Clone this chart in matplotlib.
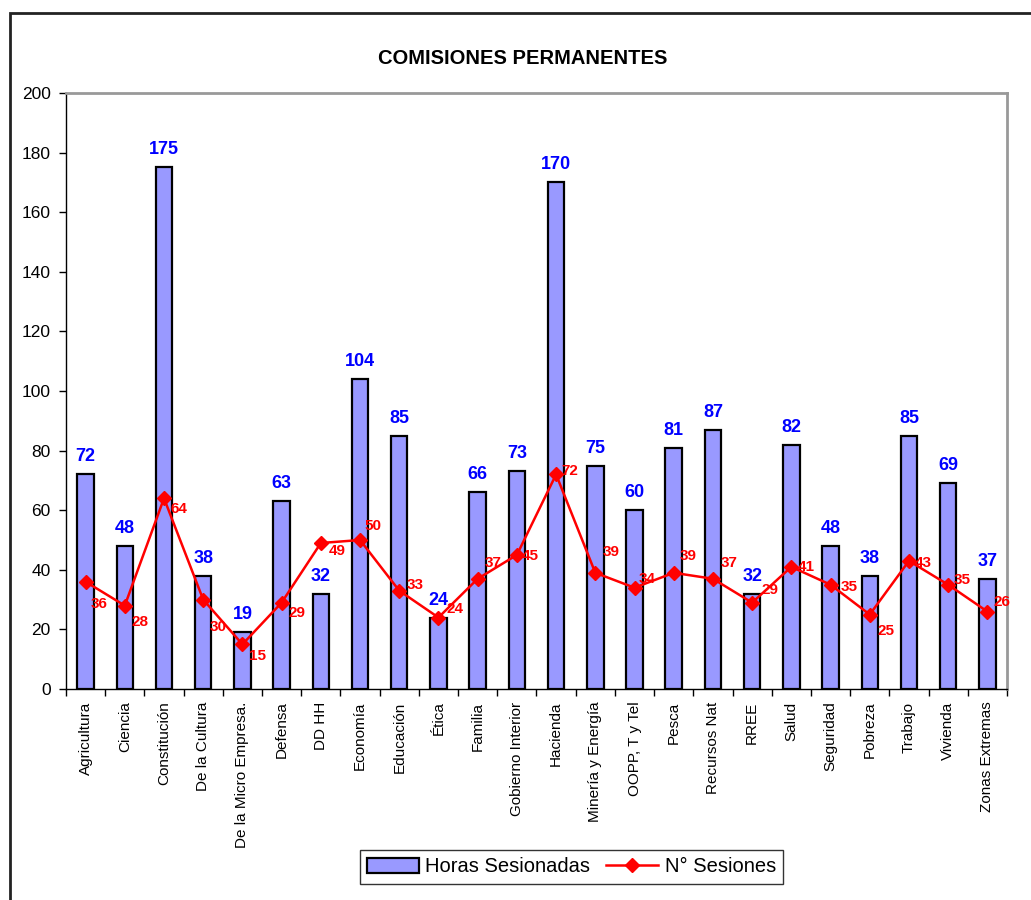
import numpy as np
import matplotlib
matplotlib.use("Agg")
import matplotlib.pyplot as plt
from matplotlib.patches import Rectangle

plt.rcParams['font.family'] = ['Liberation Sans', 'DejaVu Sans']

# datos
comisiones = ["Agricultura", "Ciencia", "Constitución", "De la Cultura",
              "De la Micro Empresa.", "Defensa", "DD HH", "Economía", "Educación",
              "Ética", "Familia", "Gobierno Interior", "Hacienda", "Minería y Energía",
              "OOPP, T y Tel", "Pesca", "Recursos Nat", "RREE", "Salud", "Seguridad",
              "Pobreza", "Trabajo", "Vivienda", "Zonas Extremas"]
horas = [72, 48, 175, 38, 19, 63, 32, 104, 85, 24, 66, 73, 170, 75, 60, 81, 87,
         32, 82, 48, 38, 85, 69, 37]
sesiones = [36, 28, 64, 30, 15, 29, 49, 50, 33, 24, 37, 45, 72, 39, 34, 39, 37,
            29, 41, 35, 25, 43, 35, 26]

# desplazamiento de las etiquetas rojas (pixeles)
off_rojo = [(14, -22), (15, -16), (15, -11), (15, -27), (15, -12), (15, -10),
            (16, -8), (13, 14), (16, 6), (17, 9), (15, 16), (13, -1), (14, 3),
            (16, 21), (13, 9), (14, 17), (16, 16), (18, 13), (15, 0), (19, -2),
            (16, -16), (14, -2), (14, 5), (15, 10)]

fig = plt.figure(figsize=(10.31, 9.0), dpi=100)
ax = fig.add_axes([0.064, 0.2344, 0.9127, 0.6623])

x = np.arange(len(comisiones))
bars = ax.bar(x, horas, width=0.42, color='#9999FF', edgecolor='black',
              linewidth=1.6, label='Horas Sesionadas', zorder=2)
ln, = ax.plot(x, sesiones, color='#FF0000', linewidth=1.8, marker='D',
              markersize=7, markerfacecolor='#FF0000', markeredgecolor='#FF0000',
              label='N° Sesiones', zorder=3)

for xi, h in zip(x, horas):
    ax.annotate(str(h), (xi, h), xytext=(0, 9), textcoords='offset pixels',
                ha='center', va='bottom', color='#0000FF', fontsize=13,
                fontweight='bold')
for xi, s, (dx, dy) in zip(x, sesiones, off_rojo):
    ax.annotate(str(s), (xi, s), xytext=(dx, dy), textcoords='offset pixels',
                ha='center', va='center', color='#FF0000', fontsize=11,
                fontweight='bold', zorder=4)

ax.set_xlim(-0.5, len(comisiones) - 0.5)
ax.set_ylim(0, 200)
ax.set_yticks(np.arange(0, 201, 20))
ax.tick_params(axis='y', direction='out', length=5, width=1, labelsize=12.5, pad=6)

ax.set_xticks(x)
ax.set_xticklabels(comisiones, rotation=90, fontsize=11)
ax.tick_params(axis='x', which='major', length=0, pad=9)
ax.set_xticks(np.arange(-0.5, len(comisiones)), minor=True)
ax.tick_params(axis='x', which='minor', direction='out', length=5, width=1)

for s in ['top', 'right']:
    ax.spines[s].set_color('#999999')
    ax.spines[s].set_linewidth(2)
for s in ['left', 'bottom']:
    ax.spines[s].set_color('black')
    ax.spines[s].set_linewidth(1)

fig.text(0.507, 0.935, "COMISIONES PERMANENTES", ha='center', va='center',
         fontsize=14.5, fontweight='bold')

leg = fig.legend(handles=[bars, ln], loc='center', bbox_to_anchor=(0.554, 0.0367),
                 ncol=2, fontsize=14.5, frameon=True, fancybox=False,
                 edgecolor='black', handlelength=2.6, handleheight=0.8,
                 columnspacing=0.8, handletextpad=0.3, borderpad=0.35)
leg.get_frame().set_linewidth(1)

# marco exterior
fig.patches.append(Rectangle((10 / 1031, -0.2), 1.5, 1.2 - 13 / 900, fill=False,
                             edgecolor='#222222', linewidth=2,
                             transform=fig.transFigure, figure=fig))

fig.savefig("out.png", dpi=100)
